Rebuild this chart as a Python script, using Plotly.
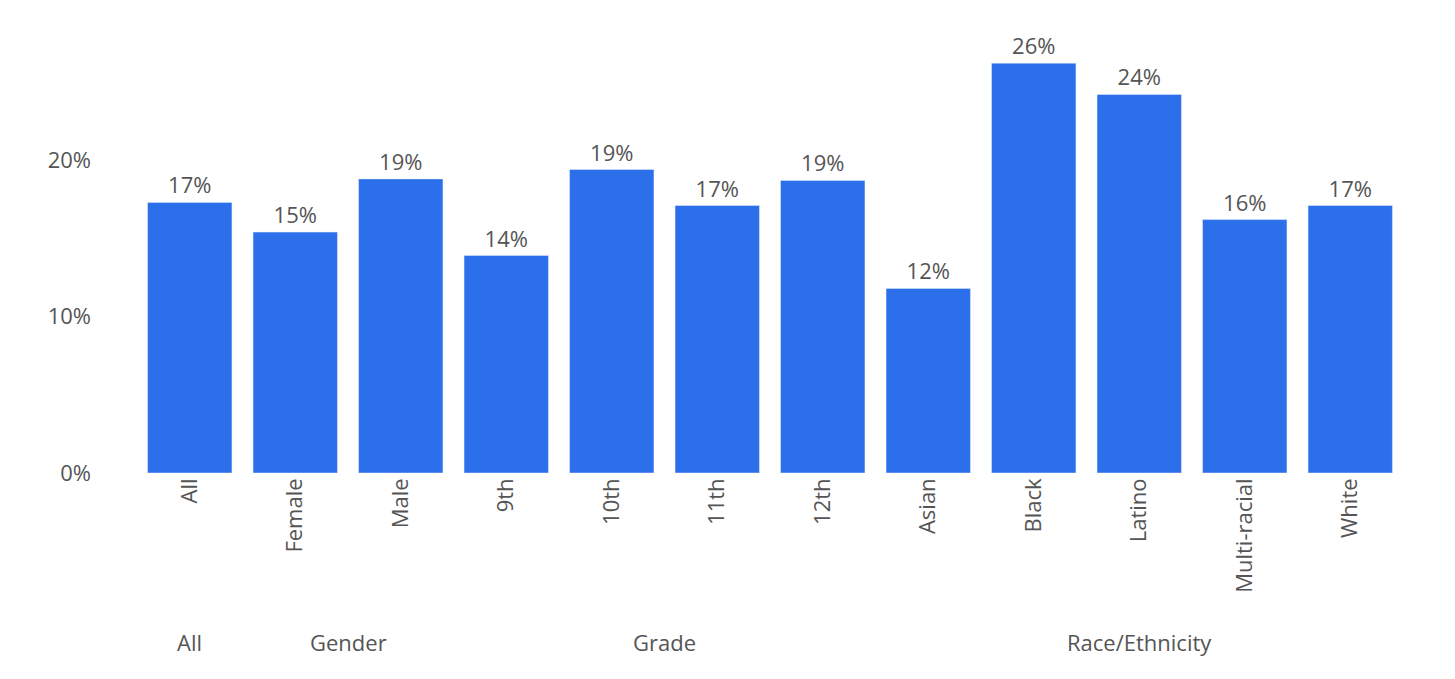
import plotly.graph_objects as go

categories = ["All", "Female", "Male", "9th", "10th", "11th", "12th",
              "Asian", "Black", "Latino", "Multi-racial", "White"]
values = [0.173, 0.154, 0.188, 0.139, 0.194, 0.171, 0.187,
          0.118, 0.262, 0.242, 0.162, 0.171]
groups = ["All", "Gender", "Gender", "Grade", "Grade", "Grade", "Grade",
          "Race/Ethnicity", "Race/Ethnicity", "Race/Ethnicity",
          "Race/Ethnicity", "Race/Ethnicity"]
yticks = [0, 0.1, 0.2]

font = "Open Sans, Noto Sans, sans-serif"
grey = "#555555"

bar = go.Bar(x=categories, y=values, marker_color="#2B6FEB",
             texttemplate="%{y:.0%}", textposition="outside",
             textfont=dict(size=22, color=grey), cliponaxis=False)

fig = go.Figure(data=[bar])

# group labels centred under their categories
seen = []
for g in groups:
    if g not in seen:
        seen.append(g)
for g in seen:
    idx = [i for i, gg in enumerate(groups) if gg == g]
    fig.add_annotation(x=sum(idx) / len(idx), y=-0.386, xref="x", yref="paper",
                       text=g, showarrow=False, yanchor="middle",
                       font=dict(size=22, color=grey, family=font))

fig.update_layout(
    width=1455, height=679,
    margin=dict(l=129, r=60, t=27, b=214),
    plot_bgcolor="white", paper_bgcolor="white",
    font=dict(family=font, color=grey, size=22),
    bargap=0.2, showlegend=False,
)
fig.update_xaxes(tickangle=-90, tickfont=dict(size=22, color=grey),
                 showgrid=False, showline=False, ticks="")
fig.update_yaxes(range=[0, 0.28], tickvals=yticks, tickformat=".0%",
                 tickfont=dict(size=22, color=grey), showgrid=False,
                 zeroline=False, showline=False, ticklabelstandoff=45)

fig.write_html("out.html")
